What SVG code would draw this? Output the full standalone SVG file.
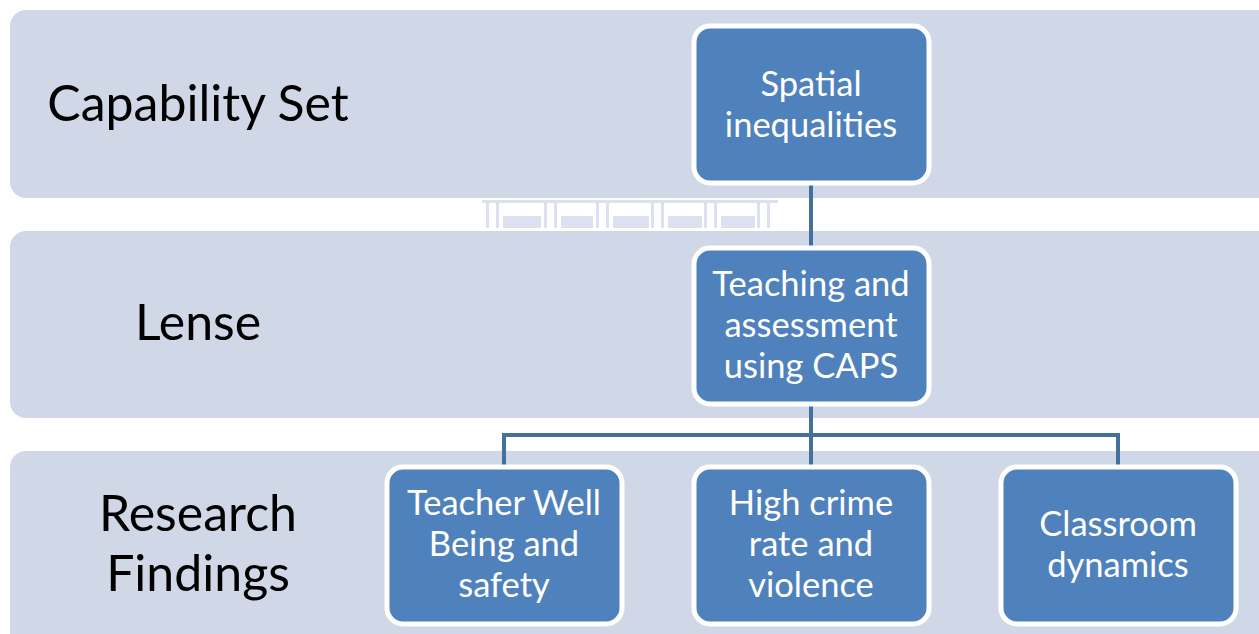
<svg xmlns="http://www.w3.org/2000/svg" width="1259" height="634" viewBox="0 0 1259 634">
<style>
.band{fill:#D0D8E8}
.box{fill:#4F81BD;stroke:#FFFFFF;stroke-width:5}
.bt{font-family:Lato,"Open Sans","DejaVu Sans",sans-serif;font-size:34.5px;fill:#FFFFFF;text-anchor:middle}
.lbl{font-family:Lato,"Open Sans","DejaVu Sans",sans-serif;font-size:50px;fill:#000000;text-anchor:middle}
.conn{fill:none;stroke:#41719C;stroke-width:4}
.art{fill:#D6DBEE}
</style>
<rect width="1259" height="634" fill="#FFFFFF"/>
<g id="bands">
<rect class="band" x="10" y="10" width="1264" height="188" rx="16"/>
<rect class="band" x="10" y="231" width="1264" height="187" rx="16"/>
<rect class="band" x="10" y="451" width="1264" height="200" rx="16"/>
</g>
<g id="artifact" opacity="0.85">
<rect class="art" x="482" y="200" width="296" height="3"/>
<rect class="art" x="486" y="203" width="3" height="25"/><rect class="art" x="496" y="203" width="3" height="25"/>
<rect class="art" x="503" y="216" width="38" height="12"/>
<rect class="art" x="544" y="203" width="3" height="25"/><rect class="art" x="554" y="203" width="3" height="25"/>
<rect class="art" x="561" y="216" width="32" height="12"/>
<rect class="art" x="596" y="203" width="3" height="25"/><rect class="art" x="606" y="203" width="3" height="25"/>
<rect class="art" x="613" y="216" width="36" height="12"/>
<rect class="art" x="651" y="203" width="3" height="25"/><rect class="art" x="661" y="203" width="3" height="25"/>
<rect class="art" x="668" y="216" width="34" height="12"/>
<rect class="art" x="704" y="203" width="3" height="25"/><rect class="art" x="714" y="203" width="3" height="25"/>
<rect class="art" x="721" y="216" width="34" height="12"/>
<rect class="art" x="757" y="203" width="3" height="25"/><rect class="art" x="767" y="203" width="3" height="25"/>
</g>
<g id="labels">
<text class="lbl" x="198" y="121">Capability Set</text>
<text class="lbl" x="198" y="340">Lense</text>
<text class="lbl" x="198" y="531">Research</text>
<text class="lbl" x="198" y="591">Findings</text>
</g>
<g id="connectors">
<line class="conn" x1="811" y1="184" x2="811" y2="248"/>
<polyline class="conn" points="811,405 811,435"/>
<polyline class="conn" points="504,466 504,435 1118,435 1118,466"/>
<line class="conn" x1="811" y1="435" x2="811" y2="466"/>
</g>
<g id="node-spatial">
<rect class="box" x="694" y="26" width="235" height="157" rx="16"/>
<text class="bt" x="811" y="96">Spatial</text>
<text class="bt" x="811" y="137">inequalities</text>
</g>
<g id="node-teaching">
<rect class="box" x="694" y="248" width="235" height="156" rx="16"/>
<text class="bt" x="811" y="296">Teaching and</text>
<text class="bt" x="811" y="337">assessment</text>
<text class="bt" x="811" y="378">using CAPS</text>
</g>
<g id="node-teacher">
<rect class="box" x="387" y="467" width="235" height="157" rx="16"/>
<text class="bt" x="504" y="515">Teacher Well</text>
<text class="bt" x="504" y="556">Being and</text>
<text class="bt" x="504" y="597">safety</text>
</g>
<g id="node-crime">
<rect class="box" x="694" y="467" width="235" height="157" rx="16"/>
<text class="bt" x="811" y="515">High crime</text>
<text class="bt" x="811" y="556">rate and</text>
<text class="bt" x="811" y="597">violence</text>
</g>
<g id="node-classroom">
<rect class="box" x="1001" y="467" width="235" height="157" rx="16"/>
<text class="bt" x="1118" y="536">Classroom</text>
<text class="bt" x="1118" y="577">dynamics</text>
</g>
</svg>
